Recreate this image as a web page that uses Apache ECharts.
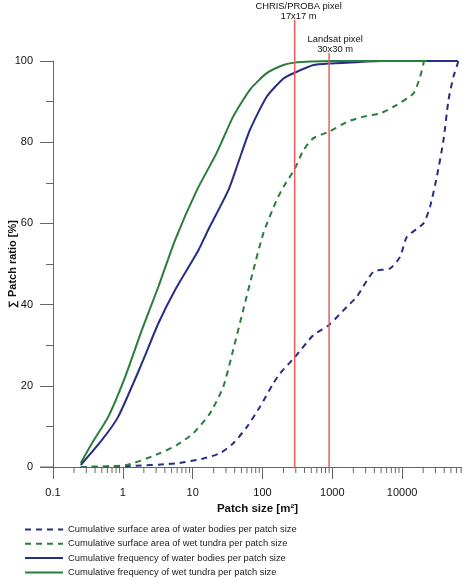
<!DOCTYPE html>
<html>
<head>
<meta charset="utf-8">
<script src="https://cdn.jsdelivr.net/npm/echarts@6/dist/echarts.min.js"></script>
<style>
  html, body { margin: 0; padding: 0; background: #fff; }
  #main { width: 462px; height: 577px; }
</style>
</head>
<body>
<div id="main"></div>
<script>
// patch sizes (m²) and cumulative ratios (%)
var waterAreaSize = [0.25, 1.14, 5.9, 14.2, 24.7, 38, 60, 92.5, 143, 179, 289, 537, 900, 1620, 2240, 3880, 6730, 9360, 11700, 20200, 25100, 31400, 39100, 46100, 54300, 64100];
var waterAreaPct  = [0, 0.2, 0.9, 2.1, 3.4, 5.8, 9.9, 14.9, 20.6, 23.1, 27.0, 32.5, 35, 39.5, 41.9, 48.1, 48.9, 51.8, 56.7, 60, 64.1, 71.5, 80.5, 90.4, 96.1, 100];

var tundraAreaSize = [0.25, 1.14, 3.41, 5.9, 10.2, 17.7, 27.5, 38, 53, 74, 103, 160, 200, 289, 385, 537, 900, 1620, 2790, 4840, 7500, 14500, 18100, 20600];
var tundraAreaPct  = [0, 0.5, 3.4, 5.4, 8.3, 13.2, 19.8, 28.8, 38.7, 48.5, 57.6, 65.8, 69, 73.4, 78, 81, 82.6, 85, 86.3, 87.1, 88.7, 92, 96.1, 100];

var waterFreqSize = [0.25, 0.5, 0.86, 1.87, 3.23, 5.6, 12.1, 16.8, 32.5, 45, 66, 115, 200, 289, 537, 900, 2750, 5000, 63000];
var waterFreqPct  = [0.5, 6.6, 12.4, 25.5, 35.4, 43.6, 53.4, 58.5, 68.2, 75, 83, 91.2, 95.7, 97.1, 99, 99.4, 99.8, 100, 100];

var tundraFreqSize = [0.25, 0.36, 0.62, 1.08, 1.87, 3.23, 5.6, 11.5, 22, 38, 66, 115, 200, 289, 500, 1000, 22800];
var tundraFreqPct  = [1, 5.8, 12.4, 22.2, 33.7, 44.4, 55.9, 68.2, 77.3, 86.3, 92.9, 97, 99, 99.6, 99.9, 100, 100];

var seriesNames = [
  'Cumulative surface area of water bodies per patch size',
  'Cumulative surface area of wet tundra per patch size',
  'Cumulative frequency of water bodies per patch size',
  'Cumulative frequency of wet tundra per patch size'
];

// sensor pixel sizes: 17x17 m and 30x30 m
var pixelSizes = [289, 900];
var pixelLabels = ['CHRIS/PROBA pixel\n17x17 m', 'Landsat pixel\n30x30 m'];
var pixelLineTops = [110.1, 101.9];

var xMin = 0.1, xMax = 72000;
var minorTicks = [];
[0.1, 1, 10, 100, 1000, 10000].forEach(function (d) {
  for (var k = 2; k <= 9; k++) {
    if (d * k < xMax) minorTicks.push([+(d * k).toPrecision(3), 0]);
  }
});

function zip(xs, ys) {
  return xs.map(function (x, i) { return [x, ys[i]]; });
}

var blue = '#262e86';
var green = '#2a7d3a';
var red = '#f25a5a';
var font = 'Liberation Sans, Arial, sans-serif';

var chart = echarts.init(document.getElementById('main'), null, { renderer: 'canvas' });

function curve(name, data, color, dashed) {
  return {
    name: name,
    type: 'line',
    data: data,
    symbol: 'none',
    smooth: 0.2,
    lineStyle: {
      color: color,
      width: 2,
      type: dashed ? [6, 5] : 'solid'
    },
    itemStyle: { color: color },
    z: 3
  };
}

function pixelLine(i) {
  return {
    type: 'line',
    data: [
      { value: [pixelSizes[i], 0] },
      {
        value: [pixelSizes[i], pixelLineTops[i]],
        label: {
          show: true,
          position: 'top',
          distance: 0,
          offset: [i === 0 ? 4 : 6, 2],
          formatter: pixelLabels[i],
          fontFamily: font,
          fontSize: 9.4,
          lineHeight: 10,
          color: '#111'
        }
      }
    ],
    symbol: 'circle',
    symbolSize: 1,
    clip: false,
    silent: true,
    lineStyle: { color: red, width: 1.5 },
    itemStyle: { color: red },
    z: 4
  };
}

var option = {
  backgroundColor: '#ffffff',
  animation: false,
  grid: {
    left: 53,
    right: 0,
    top: 61,
    bottom: 110,
    outerBoundsMode: 'none'
  },
  legend: {
    data: seriesNames,
    orient: 'vertical',
    left: 24,
    top: 525,
    height: 70,
    padding: 0,
    itemWidth: 38,
    itemHeight: 10,
    itemGap: 5.3,
    itemStyle: { opacity: 0 },
    textStyle: { fontFamily: font, fontSize: 9.4, color: '#222' }
  },
  xAxis: {
    type: 'log',
    logBase: 10,
    min: xMin,
    max: xMax,
    splitNumber: 6,
    name: 'Patch size [m²]',
    nameLocation: 'middle',
    nameGap: 36,
    nameMoveOverlap: false,
    nameTextStyle: { fontFamily: font, fontSize: 11.5, fontWeight: 'bold', color: '#111' },
    axisLine: { lineStyle: { color: '#666', width: 1 } },
    axisTick: { length: 12, lineStyle: { color: '#666' } },
    axisLabel: {
      margin: 20,
      fontFamily: font,
      fontSize: 11,
      color: '#111',
      formatter: function (v) {
        var l = Math.log10(v);
        if (Math.abs(l - Math.round(l)) > 1e-6) return '';
        return String(+v.toPrecision(3));
      }
    },
    splitLine: { show: false }
  },
  yAxis: {
    type: 'value',
    min: 0,
    max: 100,
    interval: 20,
    name: '∑ Patch ratio [%]',
    nameLocation: 'middle',
    nameGap: 35,
    nameMoveOverlap: false,
    nameTextStyle: { fontFamily: font, fontSize: 11, fontWeight: 'bold', color: '#111' },
    axisLine: { show: true, lineStyle: { color: '#666', width: 1 } },
    axisTick: { show: true, length: 13, lineStyle: { color: '#666' } },
    minorTick: { show: true, splitNumber: 2, length: 7, lineStyle: { color: '#666' } },
    axisLabel: { margin: 20, fontFamily: font, fontSize: 11, color: '#111' },
    splitLine: { show: false }
  },
  series: [
    curve(seriesNames[0], zip(waterAreaSize, waterAreaPct), blue, true),
    curve(seriesNames[1], zip(tundraAreaSize, tundraAreaPct), green, true),
    curve(seriesNames[2], zip(waterFreqSize, waterFreqPct), blue, false),
    curve(seriesNames[3], zip(tundraFreqSize, tundraFreqPct), green, false),
    pixelLine(0),
    pixelLine(1),
    {
      // log minor ticks (2..9 in each decade) hanging under the x axis
      type: 'custom',
      data: minorTicks,
      clip: false,
      silent: true,
      renderItem: function (params, api) {
        var p = api.coord([api.value(0), 0]);
        return {
          type: 'line',
          shape: { x1: p[0], y1: p[1], x2: p[0], y2: p[1] + 6 },
          style: { stroke: '#666', lineWidth: 1 }
        };
      },
      z: 1
    },
    {
      // axis line runs a little left of the y axis
      type: 'custom',
      data: [[xMin, 0]],
      clip: false,
      silent: true,
      renderItem: function (params, api) {
        var p = api.coord([api.value(0), 0]);
        return {
          type: 'line',
          shape: { x1: p[0] - 13, y1: p[1], x2: p[0], y2: p[1] },
          style: { stroke: '#666', lineWidth: 1 }
        };
      },
      z: 1
    }
  ]
};

chart.setOption(option);
</script>
</body>
</html>
